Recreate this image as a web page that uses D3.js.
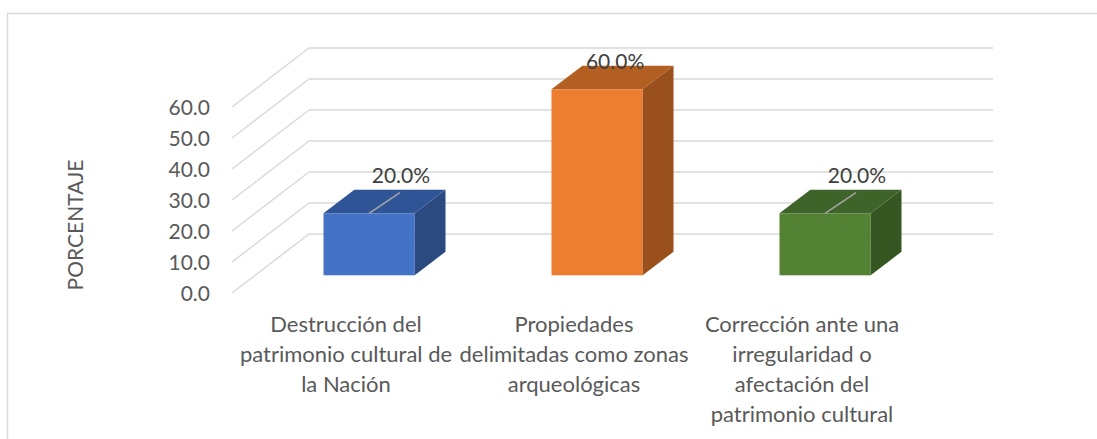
<!DOCTYPE html>
<html>
<head>
<meta charset="utf-8">
<script src="https://cdn.jsdelivr.net/npm/d3@7"></script>
<style>
  body { margin: 0; background: #fff; }
  text { font-family: Lato, "Open Sans", sans-serif; }
</style>
</head>
<body>
<script>
// data
var categories = [
  ["Destrucción del", "patrimonio cultural de", "la Nación"],
  ["Propiedades", "delimitadas como zonas", "arqueológicas"],
  ["Corrección ante una", "irregularidad o", "afectación del", "patrimonio cultural"]
];
var values = [20.0, 60.0, 20.0];
var tickValues = [0, 10, 20, 30, 40, 50, 60];
var axisTitle = "PORCENTAJE";

// colours: front, top, side
var colors = [
  ["#4472C4", "#2F5597", "#2B4A80"],
  ["#ED7D31", "#B45F22", "#9A501D"],
  ["#548235", "#3F6429", "#365621"]
];

var svgWidth = 1097;
var svgHeight = 439;

// 3d depth offset of the plot box
var depthX = 77;
var depthY = 59;

var svg = d3.select("body")
  .append("svg")
  .attr("width", svgWidth)
  .attr("height", svgHeight);

// chart border
svg.append("rect")
  .attr("x", 7.5).attr("y", 13.5)
  .attr("width", 1100).attr("height", 440)
  .attr("fill", "none")
  .attr("stroke", "#D9D9D9")
  .attr("stroke-width", 1.5);

var idx = d3.range(values.length);

var xScale = d3.scaleBand()
  .domain(idx)
  .range([232, 916])
  .paddingInner(0.6)
  .paddingOuter(0.3);

var yScale = d3.scaleLinear()
  .domain([0, 60])
  .range([293, 107]);

// gridlines: side wall + back wall
var grid = svg.append("g").attr("class", "grid");
grid.selectAll("line.side")
  .data(tickValues)
  .enter()
  .append("line")
  .attr("x1", 232)
  .attr("y1", function(d) { return yScale(d); })
  .attr("x2", 232 + depthX)
  .attr("y2", function(d) { return yScale(d) - depthY; })
  .attr("stroke", "#D9D9D9")
  .attr("stroke-width", 1.5);

grid.selectAll("line.back")
  .data(tickValues)
  .enter()
  .append("line")
  .attr("x1", 232 + depthX)
  .attr("y1", function(d) { return yScale(d) - depthY; })
  .attr("x2", 916 + depthX)
  .attr("y2", function(d) { return yScale(d) - depthY; })
  .attr("stroke", "#D9D9D9")
  .attr("stroke-width", 1.5);

// y axis labels
var leftAxis = d3.axisLeft(yScale)
  .tickValues(tickValues)
  .tickSize(0)
  .tickPadding(22)
  .tickFormat(d3.format(".1f"));

var yAxisG = svg.append("g")
  .attr("transform", "translate(232,0)")
  .call(leftAxis);
yAxisG.select(".domain").remove();
yAxisG.selectAll("text")
  .attr("fill", "#595959")
  .style("font-size", "21px")
  .style("font-family", "Lato, sans-serif")
  .attr("dy", "0.38em");

// axis title
svg.append("text")
  .attr("transform", "translate(83,225) rotate(-90)")
  .attr("text-anchor", "middle")
  .attr("fill", "#595959")
  .style("font-size", "21px")
  .text(axisTitle);

// bars
var d0 = 0.3, d1 = 0.7;
var bw = xScale.bandwidth();
var ddx = depthX * (d1 - d0), ddy = depthY * (d1 - d0);

var bars = svg.selectAll("g.bar")
  .data(idx)
  .enter()
  .append("g")
  .attr("class", "bar");

function x0(i) { return xScale(i) + depthX * d0; }
function yB() { return yScale(0) - depthY * d0; }
function yT(i) { return yScale(values[i]) - depthY * d0; }

bars.append("rect")
  .attr("x", function(i) { return x0(i); })
  .attr("y", function(i) { return yT(i); })
  .attr("width", bw)
  .attr("height", function(i) { return yB() - yT(i); })
  .attr("fill", function(i) { return colors[i][0]; });

bars.append("polygon")
  .attr("points", function(i) {
    var a = x0(i), b = a + bw, t = yT(i);
    return [[a, t], [b, t], [b + ddx, t - ddy], [a + ddx, t - ddy]].join(" ");
  })
  .attr("fill", function(i) { return colors[i][1]; });

bars.append("polygon")
  .attr("points", function(i) {
    var b = x0(i) + bw, t = yT(i), bot = yB();
    return [[b, t], [b + ddx, t - ddy], [b + ddx, bot - ddy], [b, bot]].join(" ");
  })
  .attr("fill", function(i) { return colors[i][2]; });

// data labels
var maxV = d3.max(values);
bars.each(function(i) {
  var g = d3.select(this);
  var xc = x0(i) + bw / 2;
  var t = yT(i);
  if (values[i] < maxV) {
    g.append("line")
      .attr("x1", xc).attr("y1", t)
      .attr("x2", xc + ddx).attr("y2", t - ddy + 3)
      .attr("stroke", "#A6A6A6")
      .attr("stroke-width", 1.5);
    g.append("text")
      .attr("x", xc + ddx + 1)
      .attr("y", t - 30)
      .attr("text-anchor", "middle")
      .attr("fill", "#404040")
      .style("font-size", "21px")
      .text(d3.format(".1f")(values[i]) + "%");
  } else {
    g.append("text")
      .attr("x", xc + 18)
      .attr("y", t - 20)
      .attr("text-anchor", "middle")
      .attr("fill", "#404040")
      .style("font-size", "21px")
      .text(d3.format(".1f")(values[i]) + "%");
  }
});

// category labels
var catLabels = svg.selectAll("text.cat")
  .data(idx)
  .enter()
  .append("text")
  .attr("class", "cat")
  .attr("text-anchor", "middle")
  .attr("fill", "#595959")
  .style("font-size", "22px");

catLabels.selectAll("tspan")
  .data(function(i) {
    return categories[i].map(function(s, k) { return { i: i, k: k, s: s }; });
  })
  .enter()
  .append("tspan")
  .attr("x", function(d) { return xScale(d.i) + bw / 2; })
  .attr("y", function(d) { return 332 + d.k * 30; })
  .text(function(d) { return d.s; });
</script>
</body>
</html>
